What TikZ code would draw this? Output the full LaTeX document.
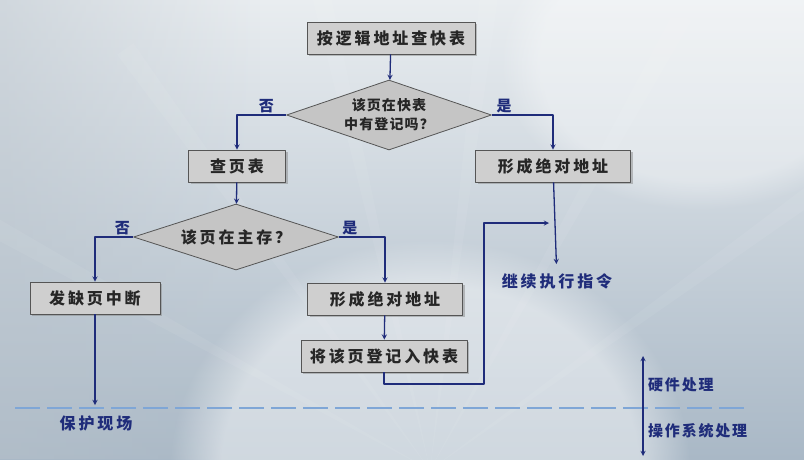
\documentclass[tikz,border=0pt]{standalone}
\usepackage{fontspec}
\setmainfont{Noto Sans CJK SC}
\usetikzlibrary{shapes.geometric,shadows,fadings}
\definecolor{navy}{HTML}{1F2C7A}
\definecolor{boxgray}{HTML}{CFCFCF}
\definecolor{boxline}{HTML}{555555}
\definecolor{bgtop}{HTML}{E9EDF0}
\definecolor{bgbot}{HTML}{A9B8C6}
\definecolor{bgleft}{HTML}{B8C2CB}
\definecolor{sepblue}{HTML}{7FA6D6}
\newcommand{\boxfont}{\fontsize{16}{19}\selectfont\bfseries\addfontfeature{LetterSpace=18}}
\newcommand{\labfont}{\fontsize{15}{18}\selectfont\bfseries\addfontfeature{LetterSpace=12}}
\begin{document}
\begin{tikzpicture}[x=1pt,y=-1pt,>=stealth,line join=round,
    stepbox/.style={draw=boxline,fill=boxgray,line width=.8pt,minimum height=32,inner sep=0pt,
        text=black!85,font=\boxfont,drop shadow={shadow xshift=2pt,shadow yshift=-2pt,opacity=.45}},
    ask/.style={diamond,draw=boxline,fill=boxgray!95!black,line width=.8pt,inner sep=0pt,aspect=3,
        text=black!85,align=center},
    flow/.style={draw=navy,line width=1.3pt,->},
    lab/.style={text=navy,font=\labfont,inner sep=1pt}]
    \useasboundingbox (0,0) rectangle (804,459);
    % background
    \shade[top color=bgtop,bottom color=bgbot] (0,0) rectangle (804,459);
    \fill[bgleft,opacity=.5,path fading=east] (0,0) rectangle (260,459);
    \fill[white,opacity=.45,path fading=circle with fuzzy edge 20 percent] (430,470) ellipse (260 and 230);
    \fill[white,opacity=.35,path fading=circle with fuzzy edge 20 percent] (700,60) ellipse (200 and 150);
    \foreach \a in {-60,-35,-12,8,30,55}
    \fill[white,opacity=.06] (430,470)--++(\a-92:520)--++(\a:20)--cycle;
    % nodes
    \node[stepbox,minimum width=168] (tlb) at (391,38) {按逻辑地址查快表};
    \node[ask,minimum width=205,minimum height=70,font=\fontsize{14}{19}\selectfont\bfseries\addfontfeature{LetterSpace=8}] (intlb) at (389,115) {该页在快表\\中有登记吗？};
    \node[stepbox,minimum width=97] (ptab) at (237,166) {查页表};
    \node[stepbox,minimum width=155] (absa) at (553,166) {形成绝对地址};
    \node[ask,minimum width=205,minimum height=66,font=\boxfont] (inmem) at (236,237) {该页在主存？};
    \node[stepbox,minimum width=130] (fault) at (95,298) {发缺页中断};
    \node[stepbox,minimum width=155] (absb) at (385,299) {形成绝对地址};
    \node[stepbox,minimum width=166] (reg) at (384,356) {将该页登记入快表};
    \node[lab,font=\boxfont] (cont) at (557,281) {继续执行指令};
    \node[lab,font=\boxfont] (save) at (96,423) {保护现场};
    \node[lab,anchor=west] (hw) at (647,385) {硬件处理};
    \node[lab,anchor=west] (os) at (647,431) {操作系统处理};
    \coordinate (loopa) at (484,384);
    \coordinate (loopb) at (484,223);
    \coordinate (join) at (549,223);
    \coordinate (drop) at (95,405);
    \coordinate (sepl) at (15,408);
    \coordinate (sepr) at (748,408);
    \coordinate (hwtop) at (643,356);
    \coordinate (osbot) at (643,456);
    % connectors
    \draw[flow] (tlb) -- (intlb);
    \draw[flow] (intlb.west) -| node[lab,above,pos=.2] {否} (ptab.north);
    \draw[flow] (intlb.east) -| node[lab,above,pos=.1] {是} (absa.north);
    \draw[flow] (ptab) -- (inmem);
    \draw[flow] (inmem.west) -| node[lab,above,pos=.14] {否} (fault.north);
    \draw[flow] (inmem.east) -| node[lab,above,pos=.12] {是} (absb.north);
    \draw[flow] (absb) -- (reg);
    \draw[flow] (reg.south) |- (loopa) -- (loopb) -- (join);
    \draw[flow,shorten >=8pt] (absa) -- (cont);
    \draw[flow] (fault) -- (drop);
    \draw[sepblue,line width=2.5pt,dash pattern=on 25pt off 7pt] (sepl) -- (sepr);
    \draw[draw=navy,line width=1.3pt,<->] (hwtop) -- (osbot);
\end{tikzpicture}
\end{document}
